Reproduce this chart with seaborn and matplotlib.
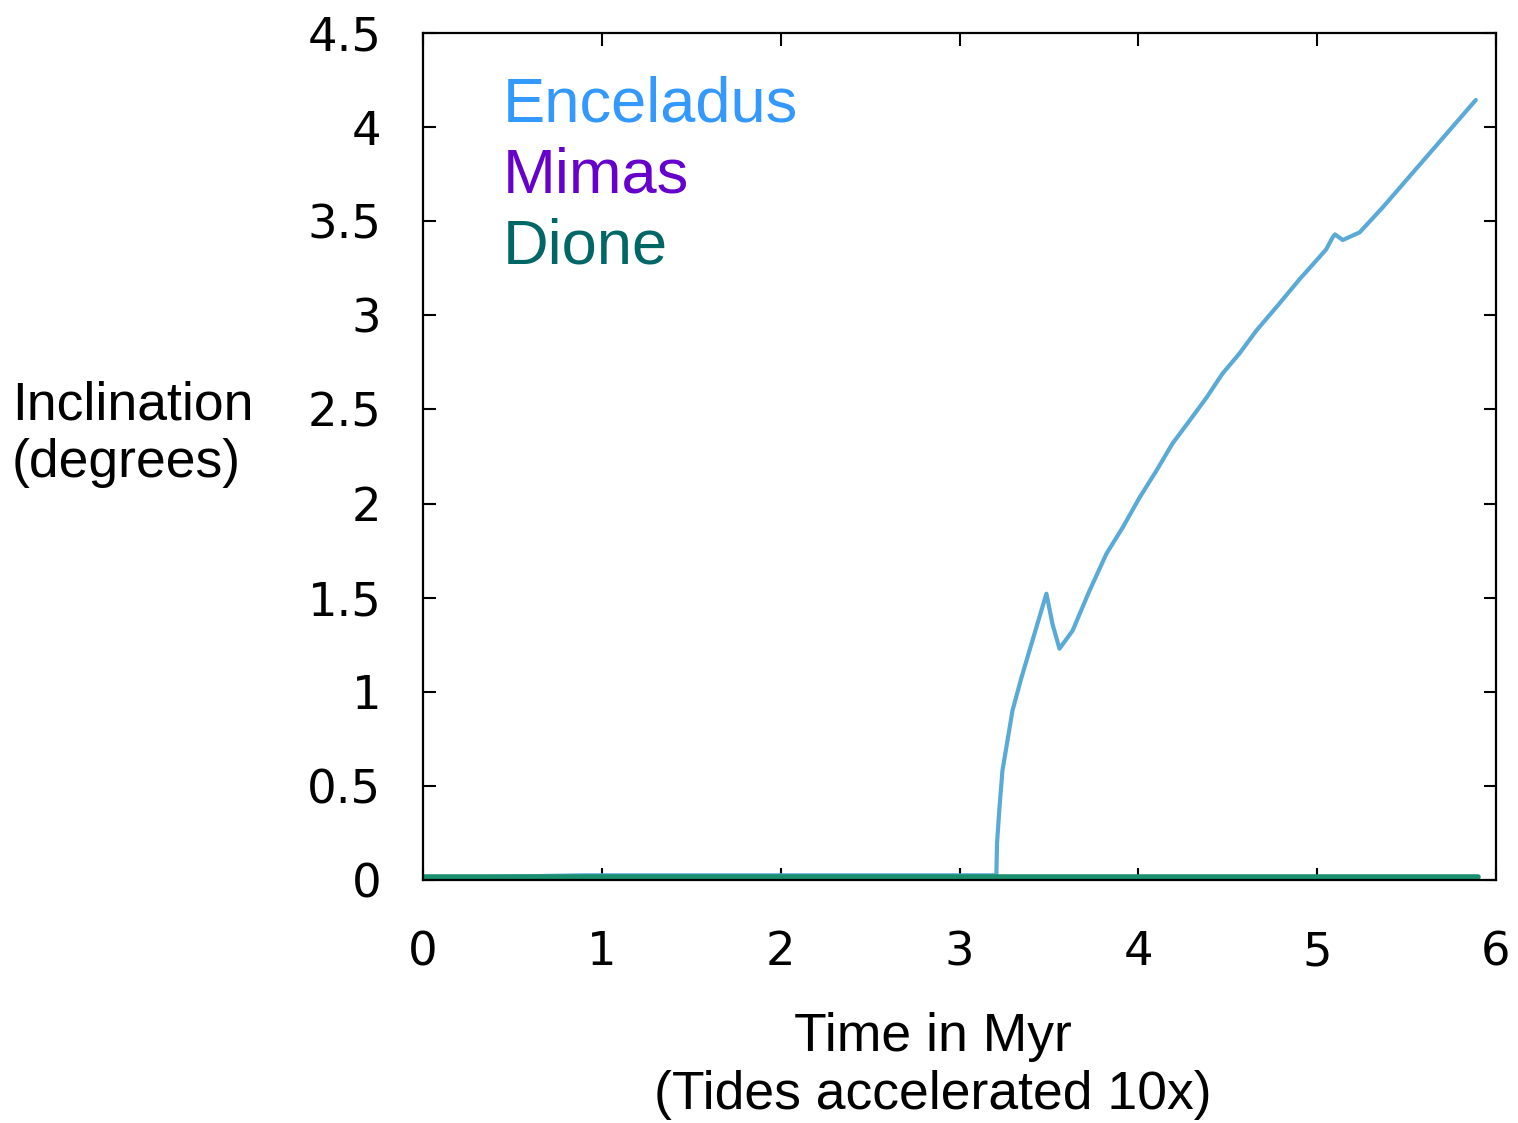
import matplotlib
matplotlib.use("Agg")
import matplotlib.pyplot as plt
import seaborn as sns

# ---- data ----
enc_t = [0.0, 0.9, 3.20, 3.206, 3.210, 3.223, 3.24, 3.268, 3.296, 3.346, 3.391, 3.436, 3.486,
         3.52, 3.559, 3.632, 3.727, 3.822, 3.912, 4.007, 4.102, 4.191, 4.287, 4.382,
         4.471, 4.566, 4.661, 4.79, 4.90, 4.997, 5.05, 5.087, 5.10, 5.143, 5.238, 5.367, 5.887]
enc_i = [0.01, 0.025, 0.025, 0.02, 0.197, 0.378, 0.58, 0.739, 0.899, 1.074, 1.218, 1.362, 1.521,
         1.36, 1.229, 1.324, 1.537, 1.734, 1.872, 2.032, 2.176, 2.319, 2.441, 2.564,
         2.691, 2.798, 2.92, 3.064, 3.19, 3.293, 3.35, 3.415, 3.43, 3.40, 3.441, 3.574, 4.144]

mim_t = [0.0, 5.3, 5.5, 5.6, 5.9]
mim_i = [0.005, 0.005, -0.005, 0.005, 0.005]

dio_t = [0.0, 5.9]
dio_i = [0.015, 0.015]

xticks = [0, 1, 2, 3, 4, 5, 6]
yticks = [0, 0.5, 1, 1.5, 2, 2.5, 3, 3.5, 4, 4.5]
ytick_labels = ["0", "0.5", "1", "1.5", "2", "2.5", "3", "3.5", "4", "4.5"]

names = ["Enceladus", "Mimas", "Dione"]
line_colors = ["#5aaad8", "#5a0fb0", "#1a9070"]
text_colors = ["#3399ff", "#6600cc", "#006666"]

sns.set_style("ticks")
plt.rcParams["font.family"] = ["Liberation Sans", "DejaVu Sans"]
plt.rcParams["text.color"] = "black"

fig = plt.figure(figsize=(15.18, 11.23), dpi=100)
ax = fig.add_axes([423 / 1518, 1 - 880 / 1123, (1496 - 423) / 1518, (880 - 33) / 1123])

sns.lineplot(x=enc_t, y=enc_i, ax=ax, color=line_colors[0], linewidth=3.0, estimator=None, sort=False)
sns.lineplot(x=mim_t, y=mim_i, ax=ax, color=line_colors[1], linewidth=3.0, estimator=None, sort=False)
sns.lineplot(x=dio_t, y=dio_i, ax=ax, color=line_colors[2], linewidth=4.0, estimator=None, sort=False)

ax.set_xlim(0, 6)
ax.set_ylim(0, 4.5)
ax.set_xticks(xticks)
ax.set_yticks(yticks)
ax.set_yticklabels(ytick_labels)
ax.tick_params(direction="in", length=9, width=1.5, top=True, right=True,
               labelsize=33.5, colors="black")
ax.tick_params(axis="y", pad=30)
ax.tick_params(axis="x", pad=36)
for lab in ax.get_xticklabels() + ax.get_yticklabels():
    lab.set_fontfamily("DejaVu Sans")
for s in ax.spines.values():
    s.set_visible(True)
    s.set_linewidth(1.6)
    s.set_color("black")

# legend as coloured text
for k, (nm, c) in enumerate(zip(names, text_colors)):
    ax.text(0.074, 0.915 - k * 0.084, nm, transform=ax.transAxes, color=c,
            fontsize=45.5, ha="left", va="center")

fig.text(12 / 1518, 1 - 434 / 1123, "Inclination\n(degrees)", fontsize=38.5,
         color="black", ha="left", va="center", multialignment="left", linespacing=1.2)
fig.text(933 / 1518, 1 - 1066 / 1123, "Time in Myr\n(Tides accelerated 10x)", fontsize=38.5,
         color="black", ha="center", va="center", multialignment="center", linespacing=1.2)

fig.savefig("out.png", dpi=100)
